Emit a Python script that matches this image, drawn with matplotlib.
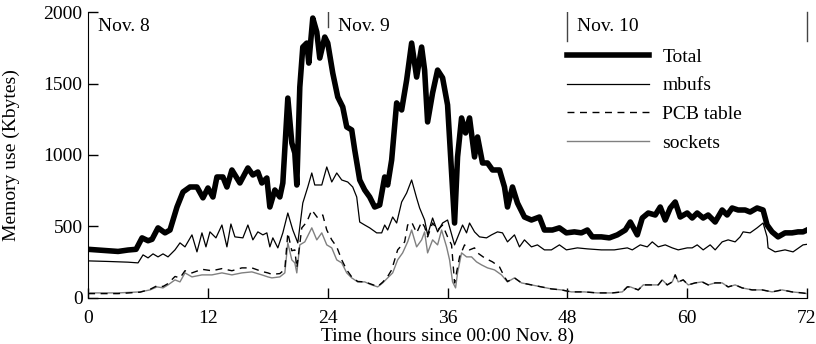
import matplotlib
matplotlib.use('Agg')
import matplotlib.pyplot as plt

plt.rcParams['font.family'] = ['Liberation Serif', 'DejaVu Serif']
plt.rcParams['font.size'] = 14

# Total memory (Kbytes)
hours_total = [0, 1, 2, 3, 4, 4.8, 5.4, 6.0, 6.4, 7.0, 7.7, 8.2, 8.9, 9.5, 10.2, 10.9, 11.5,
               12.0, 12.5, 12.9, 13.5, 13.9, 14.4, 15.2, 16.0, 16.5, 17.0, 17.4, 17.9, 18.2,
               18.7, 19.2, 19.5, 20.0, 20.4, 20.7, 20.9, 21.2, 21.5, 21.9, 22.1, 22.5, 22.9,
               23.2, 23.7, 24.0, 24.5, 25.0, 25.5, 25.9, 26.4, 26.7, 27.2, 27.7, 28.2, 28.7,
               29.2, 29.7, 30.0, 30.4, 30.9, 31.4, 31.9, 32.4, 32.9, 33.4, 33.7, 34.0, 34.5,
               35.0, 35.5, 36.0, 36.4, 36.7, 37.0, 37.4, 37.8, 38.2, 38.7, 39.0, 39.5, 40.0,
               40.5, 41.2, 41.7, 42.0, 42.5, 43.0, 43.7, 44.4, 45.2, 45.7, 46.5, 47.2, 47.9,
               48.7, 49.4, 50.0, 50.5, 51.4, 52.2, 53.0, 53.8, 54.3, 55.0, 55.5, 56.1, 56.8,
               57.3, 57.8, 58.3, 58.8, 59.3, 60.0, 60.5, 61.0, 61.6, 62.1, 62.8, 63.5, 64.0,
               64.5, 65.1, 65.8, 66.3, 67.0, 67.6, 68.0, 68.5, 69.1, 69.8, 70.5, 71.1, 71.6, 72]
total = [340, 335, 330, 325, 335, 340, 420, 400, 410, 490, 455, 475, 636, 741, 776, 776, 700,
         769, 706, 846, 846, 776, 895, 804, 909, 860, 881, 804, 839, 636,
         755, 706, 804, 1398, 1084, 1014, 790, 1475, 1755, 1783, 1643, 1958, 1860,
         1678, 1825, 1783, 1573, 1406, 1336, 1196, 1175, 1035, 825, 755, 706, 636,
         650, 846, 790, 965, 1364, 1315, 1524, 1783, 1545, 1755, 1594, 1231, 1434,
         1594, 1540, 1350, 874, 524, 986, 1259, 1154, 1259, 986, 1126, 944, 944,
         895, 895, 776, 636, 776, 664, 566, 545, 566, 475, 475, 490, 455,
         462, 455, 475, 427, 427, 420, 441, 475, 531, 441, 559, 594, 580,
         636, 545, 629, 671, 566, 594, 559, 594, 559, 580, 531, 615, 580,
         629, 615, 615, 601, 629, 615, 510, 462, 427, 455, 455, 462, 462, 475]

# mbufs
hours_mbufs = [0, 2, 4, 5.0, 5.5, 6.0, 6.5, 7.0, 7.5, 8.0, 8.7, 9.2, 9.7, 10.4, 10.9, 11.4, 11.8,
               12.2, 12.8, 13.4, 13.9, 14.3, 14.7, 15.5, 16.0, 16.5, 17.0, 17.5, 17.9, 18.2,
               18.5, 19.0, 19.5, 20.0, 20.5, 21.0, 21.5, 22.0, 22.4, 22.7, 23.4, 23.9, 24.4,
               24.9, 25.4, 26.0, 26.5, 26.9, 27.2, 27.7, 28.2, 28.9, 29.4, 29.7, 30.0, 30.5,
               30.9, 31.4, 31.9, 32.4, 32.9, 33.2, 33.7, 34.0, 34.5, 35.0, 35.5, 36.0, 36.7,
               37.5, 37.9, 38.2, 38.7, 39.2, 39.9, 40.4, 41.0, 41.5, 42.0, 42.7, 43.2, 43.7,
               44.4, 45.0, 45.7, 46.4, 47.2, 47.9, 49.0, 50.0, 51.4, 52.7, 54.0, 54.5, 55.3,
               56.0, 56.5, 57.1, 57.8, 58.5, 59.1, 60.0, 60.5, 61.0, 61.6, 62.3, 62.8, 63.5,
               64.1, 64.8, 65.3, 65.6, 66.3, 67.0, 67.6, 68.0, 68.1, 68.8, 69.8, 70.6, 71.6, 72]
mbufs = [259, 255, 250, 245, 301, 280, 308, 287, 308, 287, 336, 385, 357, 441, 322, 455, 357,
         462, 420, 510, 357, 517, 427, 420, 510, 406, 462, 441, 455, 357,
         420, 350, 455, 594, 475, 385, 664, 776, 874, 790, 790, 916, 811,
         874, 825, 811, 776, 706, 531, 510, 490, 455, 455, 510, 475, 566,
         524, 671, 734, 825, 699, 629, 545, 441, 559, 462, 524, 545, 371,
         510, 455, 524, 462, 427, 420, 441, 462, 455, 392, 441, 357, 406,
         357, 371, 336, 336, 371, 336, 350, 343, 336, 336, 350, 336, 371,
         357, 392, 357, 371, 350, 336, 350, 350, 371, 336, 371, 336, 392,
         406, 392, 427, 462, 455, 490, 524, 427, 350, 322, 336, 322, 371, 375]

# sockets
hours_sockets = [0, 3, 5.2, 6.2, 6.9, 7.5, 8.0, 8.7, 9.2, 9.7, 10.4, 11.4, 12.4, 13.4, 14.4,
                 15.4, 16.4, 17.4, 18.0, 18.4, 19.2, 19.7, 20.0, 20.4, 20.7, 20.9, 21.2, 21.7,
                 22.4, 22.9, 23.4, 23.9, 24.4, 24.9, 25.4, 25.9, 26.4, 27.0, 27.7, 28.4, 29.0,
                 29.5, 30.0, 30.5, 31.0, 31.5, 32.0, 32.4, 32.9, 33.4, 33.7, 34.0, 34.5, 35.0,
                 35.4, 35.9, 36.2, 36.5, 36.8, 37.0, 37.4, 37.9, 38.4, 38.9, 39.4, 40.0, 40.7,
                 41.4, 42.0, 42.7, 43.4, 44.4, 45.4, 46.4, 47.4, 48.4, 49.7, 51.0, 52.5, 53.5,
                 54.0, 54.3, 55.1, 55.6, 56.5, 57.1, 57.5, 58.0, 58.5, 58.8, 59.1, 59.6, 60.1,
                 60.8, 61.5, 62.1, 62.8, 63.5, 64.1, 64.8, 65.5, 66.5, 67.5, 68.5, 69.5, 70.5,
                 71.5, 72]
sockets = [35, 35, 42, 56, 77, 70, 91, 126, 112, 175, 147, 161, 161, 175, 161,
           175, 182, 161, 147, 140, 147, 175, 385, 266, 245, 175, 371, 392,
           490, 406, 455, 371, 350, 266, 245, 175, 140, 112, 112, 91, 77,
           105, 140, 175, 266, 315, 392, 475, 357, 406, 462, 315, 406, 371,
           475, 357, 266, 112, 70, 175, 315, 287, 287, 252, 231, 210, 196,
           161, 112, 140, 105, 91, 77, 63, 56, 42, 42, 35, 35, 42,
           77, 77, 56, 91, 91, 91, 126, 91, 112, 161, 112, 126, 91,
           105, 112, 91, 105, 105, 77, 91, 70, 56, 56, 42, 56, 42,
           35, 30]

# PCB table
hours_pcb = [0, 3, 5.2, 6.2, 6.9, 7.5, 8.0, 8.7, 9.2, 9.7, 10.4, 11.4, 12.4, 13.4, 14.4, 15.4,
             16.4, 17.4, 18.0, 18.4, 19.2, 19.7, 20.0, 20.4, 20.7, 20.9, 21.4, 21.9, 22.4, 23.0,
             23.5, 23.9, 24.4, 24.9, 25.4, 25.9, 26.4, 27.0, 27.7, 28.4, 29.0, 29.5, 30.0, 30.4,
             31.0, 31.7, 32.0, 32.4, 32.9, 33.4, 33.7, 34.0, 34.5, 35.0, 35.5, 36.0, 36.4, 36.7,
             37.2, 37.7, 38.2, 38.7, 39.0, 39.7, 40.5, 41.2, 41.7, 42.0, 42.7, 43.4, 44.4, 45.4,
             46.4, 47.4, 48.4, 49.7, 51.0, 52.5, 53.5, 54.0, 54.3, 55.1, 55.6, 56.5, 57.1, 57.5,
             58.0, 58.5, 58.8, 59.1, 59.6, 60.1, 60.8, 61.5, 62.1, 62.8, 63.5, 64.1, 64.8, 65.5,
             66.5, 67.5, 68.5, 69.5, 70.5, 71.5, 72]
pcb = [30, 30, 40, 60, 85, 80, 100, 150, 140, 190, 175, 200, 190, 205, 190, 210,
       210, 185, 175, 165, 170, 200, 455, 330, 336, 210, 490, 531, 615, 559,
       580, 475, 406, 357, 266, 196, 147, 115, 112, 95, 80, 110, 150, 196,
       336, 392, 510, 531, 455, 531, 497, 427, 524, 475, 510, 427, 371, 105,
       287, 371, 336, 350, 315, 280, 252, 217, 147, 115, 140, 105, 91, 77,
       63, 56, 42, 42, 35, 35, 42, 77, 77, 56, 91, 91, 91, 126,
       91, 112, 161, 112, 126, 91, 105, 112, 91, 105, 105, 77, 91, 70,
       56, 56, 42, 56, 42, 35, 30]

x_ticks = [0, 12, 24, 36, 48, 60, 72]
y_ticks = [0, 500, 1000, 1500, 2000]
day_labels = ['Nov. 8', 'Nov. 9', 'Nov. 10']
day_starts = [0, 24, 48]

fig = plt.figure(figsize=(8.16, 3.44), dpi=100)
ax = fig.add_axes([0.108, 0.134, 0.881, 0.831])

ax.plot(hours_sockets, sockets, color='#808080', lw=1.0, label='sockets', zorder=2)
ax.plot(hours_pcb, pcb, color='black', lw=1.0, ls=(0, (5, 4)), label='PCB table', zorder=3)
ax.plot(hours_mbufs, mbufs, color='black', lw=0.9, label='mbufs', zorder=4)
ax.plot(hours_total, total, color='black', lw=4.0, label='Total', zorder=5,
        solid_joinstyle='round')

ax.set_xlim(0, 72)
ax.set_ylim(0, 2000)
ax.set_xticks(x_ticks)
ax.set_yticks(y_ticks)
ax.tick_params(direction='in', length=7, width=1, pad=4)
ax.tick_params(axis='x', pad=9)
for side in ['top', 'right']:
    ax.spines[side].set_visible(False)

# day separators
ax.axvline(24, ymin=0.948, ymax=1, color='#444444', lw=1)
ax.axvline(48, ymin=0.9, ymax=1, color='#444444', lw=1)
ax.axvline(72, ymin=0.9, ymax=1, color='#444444', lw=1, clip_on=False)
for d, lab in zip(day_starts, day_labels):
    ax.text(d + 1.0, 1960, lab, ha='left', va='top')

ax.set_xlabel('Time (hours since 00:00 Nov. 8)', labelpad=0)
ax.set_ylabel('Memory use (Kbytes)', labelpad=17)

handles, labels = ax.get_legend_handles_labels()
order = [3, 2, 1, 0]
ax.legend([handles[i] for i in order], [labels[i] for i in order],
          loc='upper left', bbox_to_anchor=(0.695, 0.860), bbox_transform=fig.transFigure,
          frameon=False, borderpad=0, borderaxespad=0, handlelength=4.2,
          handletextpad=0.7, labelspacing=0.57)

fig.savefig('out.png', dpi=100)
